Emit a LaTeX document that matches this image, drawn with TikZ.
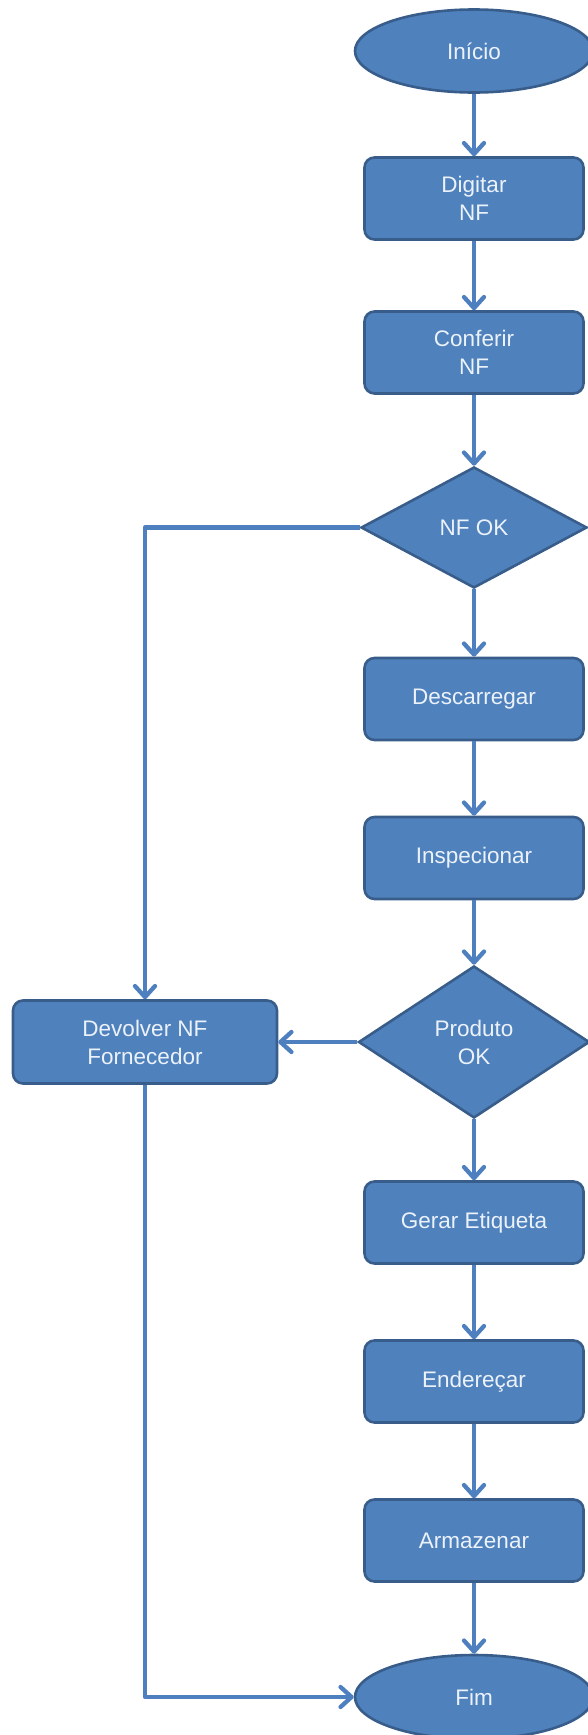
\documentclass[tikz,border=0pt]{standalone}
\usepackage{fontspec}
\setmainfont{Liberation Sans}
\usetikzlibrary{shapes.geometric,arrows.meta}
\definecolor{boxfill}{RGB}{79,129,189}
\definecolor{boxline}{RGB}{56,93,138}
\definecolor{conn}{RGB}{78,128,192}
\definecolor{txt}{RGB}{236,242,250}
\tikzset{
  base/.style={fill=boxfill, draw=boxline, line width=2.6pt, text=txt,
    font=\fontsize{22.5}{28}\selectfont, align=center, inner sep=0pt},
  procbox/.style={base, rectangle, rounded corners=10pt, minimum width=219pt, minimum height=82pt},
  termin/.style={base, ellipse, minimum width=238pt, minimum height=83pt},
  decis/.style={base, diamond, minimum width=226pt, minimum height=121pt},
  link/.style={draw=conn, line width=4.3pt, line join=round,
    -{Straight Barb[length=11pt, width=20pt, line cap=round, line join=round]}}
}
\begin{document}
\begin{tikzpicture}[x=1pt, y=-1pt]
\useasboundingbox (0,0) rectangle (588,1735);
\clip (0,0) rectangle (588,1735);
\node[termin] (ini) at (474,51) {Início};
\node[procbox] (dig) at (474,198.5) {Digitar\\NF};
\node[procbox] (conf) at (474,352.5) {Conferir\\NF};
\node[decis] (nfok) at (474,527.5) {NF OK};
\node[procbox] (desc) at (474,699) {Descarregar};
\node[procbox] (insp) at (474,858) {Inspecionar};
\node[decis, minimum width=231pt, minimum height=152pt] (prod) at (474,1042) {Produto\\OK};
\node[procbox, minimum width=264pt, minimum height=83pt] (dev) at (145,1042) {Devolver NF\\Fornecedor};
\node[procbox] (ger) at (474,1222.5) {Gerar Etiqueta};
\node[procbox] (ende) at (474,1381.5) {Endereçar};
\node[procbox] (arm) at (474,1540.5) {Armazenar};
\node[termin, minimum height=84pt] (fim) at (474,1697) {Fim};

\draw[link] (ini.south) -- (dig.north);
\draw[link] (dig.south) -- (conf.north);
\draw[link] (conf.south) -- (nfok.north);
\draw[link] (nfok.south) -- (desc.north);
\draw[link] (desc.south) -- (insp.north);
\draw[link] (insp.south) -- (prod.north);
\draw[link] (prod.south) -- (ger.north);
\draw[link] (ger.south) -- (ende.north);
\draw[link] (ende.south) -- (arm.north);
\draw[link] (arm.south) -- (fim.north);
\draw[link] (nfok.west) -| (dev.north);
\draw[link] (prod.west) -- (dev.east);
\draw[link] (dev.south) |- (fim.west);
\end{tikzpicture}
\end{document}
